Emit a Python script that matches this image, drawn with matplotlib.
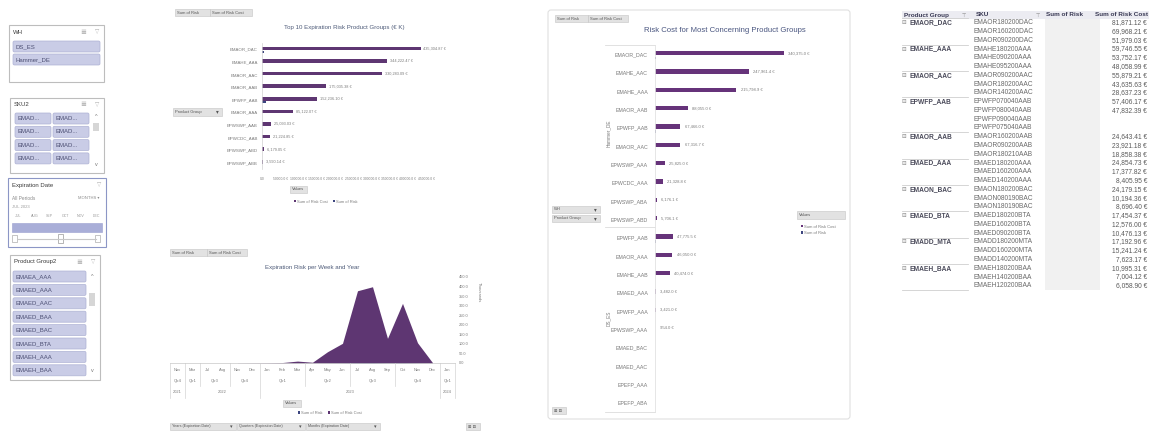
import numpy as np
import matplotlib
matplotlib.use('Agg')
import matplotlib.pyplot as plt
from matplotlib.patches import Rectangle, FancyBboxPatch
from matplotlib.transforms import blended_transform_factory

plt.rcParams['font.family'] = ['Liberation Sans', 'DejaVu Sans']

# ---- slicers ----
wh_items = ['DS_ES', 'Hammer_DE']
sku_items = ['EMAD...', 'EMAD...', 'EMAD...', 'EMAD...',
             'EMAD...', 'EMAD...', 'EMAD...', 'EMAD...']
timeline_months = ['JUL', 'AUG', 'SEP', 'OCT', 'NOV', 'DEC']
product_group_items = ['EMAEA_AAA', 'EMAED_AAA', 'EMAED_AAC', 'EMAED_BAA',
                       'EMAED_BAC', 'EMAED_BTA', 'EMAEH_AAA', 'EMAEH_BAA']

# ---- top 10 expiration risk ----
top_groups = ['EMAOR_DAC', 'EMAHE_AAA', 'EMAOR_AAC', 'EMAOR_AAB', 'EPWFP_AAB',
              'EMAOR_AAA', 'EPWSWP_AAB', 'EPWCDC_AAB', 'EPWSWP_ABD', 'EPWSWP_ABB']
top_risk_cost = [435304.87, 344222.47, 330283.09, 175035.38, 152236.10,
                 85122.07, 25093.03, 21224.85, 6179.05, 3590.14]
top_risk = [5000, 1200, 900, 700, 12000, 600, 400, 300, 200, 150]
top_ticks = np.arange(0, 450001, 50000)

# ---- expiration risk per month ----
months = ['Nov', 'Mar', 'Jul', 'Aug', 'Nov', 'Dec', 'Jan', 'Feb', 'Mar', 'Apr',
          'May', 'Jun', 'Jul', 'Aug', 'Sep', 'Oct', 'Nov', 'Dec', 'Jan']
quarter_spans = [(0, 0, 'Qtr4'), (1, 1, 'Qtr1'), (2, 3, 'Qtr3'), (4, 5, 'Qtr4'),
                 (6, 8, 'Qtr1'), (9, 11, 'Qtr2'), (12, 14, 'Qtr3'),
                 (15, 17, 'Qtr4'), (18, 18, 'Qtr1')]
year_spans = [(0, 0, '2021'), (1, 5, '2022'), (6, 17, '2023'), (18, 18, '2024')]
risk_cost_k = [np.nan, np.nan, np.nan, np.nan, 0.5, 1.0, 1.5, 2.5, 10.0, 4.0,
               59.0, 103.0, 378.0, 399.0, 129.0, 312.0, 106.0, 2.0, np.nan]
risk_k = [np.nan, np.nan, np.nan, np.nan, 0.0, 0.0, 0.0, 0.1, 0.2, 0.1,
          0.6, 1.0, 2.5, 2.8, 1.2, 2.0, 0.8, 0.0, np.nan]

# ---- risk cost by warehouse ----
hammer_groups = ['EMAOR_DAC', 'EMAHE_AAC', 'EMAHE_AAA', 'EMAOR_AAB', 'EPWFP_AAB',
                 'EMAOR_AAC', 'EPWSWP_AAA', 'EPWCDC_AAA', 'EPWSWP_ABA', 'EPWSWP_ABD']
hammer_risk_cost = [340375.0, 247961.4, 215798.9, 88055.0, 67466.0,
                    67316.7, 25825.0, 21328.8, 6176.1, 5706.1]
hammer_risk = [1500, 0, 0, 0, 3500, 0, 1200, 0, 0, 0]
ds_groups = ['EPWFP_AAB', 'EMAOR_AAA', 'EMAHE_AAB', 'EMAED_AAA', 'EPWFP_AAA',
             'EPWSWP_AAA', 'EMAED_BAC', 'EMAED_AAC', 'EPEFP_AAA', 'EPEFP_ABA']
ds_risk_cost = [47775.5, 46050.0, 40474.0, 3482.0, 3421.0, 954.0,
                np.nan, np.nan, np.nan, np.nan]
ds_risk = [2500, 0, 0, 0, 0, 0, 0, 0, 0, 0]

# ---- pivot table ----
table_groups = ['EMAOR_DAC', 'EMAHE_AAA', 'EMAOR_AAC', 'EPWFP_AAB', 'EMAOR_AAB',
                'EMAED_AAA', 'EMAON_BAC', 'EMAED_BTA', 'EMADD_MTA', 'EMAEH_BAA']
table_skus = [
    ['EMAOR180200DAC', 'EMAOR160200DAC', 'EMAOR090200DAC'],
    ['EMAHE180200AAA', 'EMAHE090200AAA', 'EMAHE095200AAA'],
    ['EMAOR090200AAC', 'EMAOR180200AAC', 'EMAOR140200AAC'],
    ['EPWFP070040AAB', 'EPWFP080040AAB', 'EPWFP090040AAB', 'EPWFP075040AAB'],
    ['EMAOR160200AAB', 'EMAOR090200AAB', 'EMAOR180210AAB'],
    ['EMAED180200AAA', 'EMAED160200AAA', 'EMAED140200AAA'],
    ['EMAON180200BAC', 'EMAON080190BAC', 'EMAON180190BAC'],
    ['EMAED180200BTA', 'EMAED160200BTA', 'EMAED090200BTA'],
    ['EMADD180200MTA', 'EMADD160200MTA', 'EMADD140200MTA'],
    ['EMAEH180200BAA', 'EMAEH140200BAA', 'EMAEH120200BAA'],
]
table_costs = [
    [81871.12, 69968.21, 51979.03],
    [59746.55, 53752.17, 48058.99],
    [55879.21, 43635.63, 28637.23],
    [57406.17, 47832.39, None, None],
    [24643.41, 23921.18, 18858.38],
    [24854.73, 17377.82, 8405.95],
    [24179.15, 10194.36, 8696.40],
    [17454.37, 12576.00, 10476.13],
    [17192.96, 15241.24, 7623.17],
    [10995.31, 7004.12, 6058.90],
]

COST = '#5e3672'
RISK = '#3d4680'
GREY = '#7a7a7a'

W, H = 1150, 432
fig = plt.figure(figsize=(11.5, 4.32), dpi=100)


def px_axes(x, y, w, h):
    return fig.add_axes([x / W, 1 - (y + h) / H, w / W, h / H])


# pixel canvas for the dashboard furniture (slicers, buttons, table)
ui = px_axes(0, 0, W, H)
ui.set_xlim(0, W)
ui.set_ylim(H, 0)
ui.axis('off')


def button(x, y, w, h, text, fs=3.0, arrow=False):
    ui.add_patch(Rectangle((x, y), w, h, fc='#e2e2e2', ec='#c4c4c4', lw=0.4))
    ui.text(x + 2, y + h / 2, text, fontsize=fs, va='center', color='#555555')
    if arrow:
        ui.text(x + w - 3, y + h / 2, '▾', fontsize=fs + 1, va='center',
                ha='right', color='#555555')


def slicer(x, y, w, h, title, ec='#bdbdbd', icons=True):
    ui.add_patch(Rectangle((x, y), w, h, fc='white', ec=ec, lw=0.8))
    ui.text(x + 4, y + 7, title, fontsize=4.3, color='#3a3a3a', va='center')
    if icons:
        ui.text(x + w - 24, y + 7, '≣', fontsize=5, color='#a0a0a0', va='center')
        ui.text(x + w - 9, y + 7, '▽', fontsize=4, color='#b0b0b0', va='center')


def item(x, y, w, h, text):
    ui.add_patch(FancyBboxPatch((x, y), w, h, boxstyle='round,pad=0,rounding_size=1.5',
                                fc='#c9cce6', ec='#aeb2d4', lw=0.5))
    ui.text(x + 3, y + h / 2, text, fontsize=4.3, va='center', color='#4c4f73')


def scrollbar(x, y0, y1, thumb0, thumb1):
    ui.text(x + 4, y0 + 2, '^', fontsize=4, ha='center', va='center', color='#777777')
    ui.text(x + 4, y1 - 2, 'v', fontsize=4, ha='center', va='center', color='#777777')
    ui.add_patch(Rectangle((x + 1, thumb0), 6, thumb1 - thumb0, fc='#d6d6d6', ec='none'))


# WH slicer
slicer(9, 25, 95, 57, 'WH')
for i, name in enumerate(wh_items):
    item(13, 41 + i * 13, 87, 11, name)

# SKU2 slicer
slicer(10, 98, 94, 75, 'SKU2')
for i, name in enumerate(sku_items):
    item(15 + (i % 2) * 38, 113 + (i // 2) * 13.3, 36, 11, name)
scrollbar(92, 115, 167, 123, 131)

# Expiration Date timeline
slicer(8, 178, 98, 69, 'Expiration Date', ec='#8c96c6', icons=False)
ui.text(97, 185, '▽', fontsize=4, color='#b0b0b0', va='center')
ui.text(12, 198, 'All Periods', fontsize=3.4, color='#8a8a8a', va='center')
ui.text(100, 198, 'MONTHS ▾', fontsize=3, color='#8a8a8a', va='center', ha='right')
ui.text(12, 207, 'JUL 2023', fontsize=3, color='#9a9a9a', va='center')
for i, m in enumerate(timeline_months):
    ui.text(15 + i * 15.5, 216, m, fontsize=2.6, color='#9a9a9a', va='center')
ui.add_patch(Rectangle((12, 223), 90, 9, fc='#a9aed8', ec='#9aa0d0', lw=0.4))
ui.plot([18, 96], [239, 239], color='#c8c8c8', lw=0.8)
ui.add_patch(Rectangle((12, 235), 5, 7, fc='white', ec='#999999', lw=0.4))
ui.add_patch(Rectangle((95, 235), 5, 7, fc='white', ec='#999999', lw=0.4))
ui.add_patch(Rectangle((58, 234), 5, 9, fc='white', ec='#999999', lw=0.5))

# Product Group2 slicer
slicer(10, 255, 90, 125, 'Product Group2')
for i, name in enumerate(product_group_items):
    item(13, 271 + i * 13.4, 73, 11, name)
scrollbar(88, 274, 372, 293, 306)

# ---------------- Top 10 expiration risk ----------------
button(175, 9, 35, 7, 'Sum of Risk')
button(210, 9, 42, 7, 'Sum of Risk Cost')
button(173, 108, 49, 8, 'Product Group', arrow=True)
button(290, 186, 17, 7, 'Values')

ax1 = px_axes(262, 43, 164, 126)
ax1.set_facecolor('none')
y1 = np.arange(len(top_groups))
b_cost = ax1.barh(y1 - 0.07, top_risk_cost, height=0.28, color=COST,
                  label='Sum of Risk Cost')
ax1.barh(y1 + 0.2, top_risk, height=0.18, color=RISK, label='Sum of Risk')
ax1.bar_label(b_cost, labels=[f'{v:,.2f} €' for v in top_risk_cost],
              fontsize=2.8, color=GREY, padding=2)
ax1.set_ylim(len(top_groups) - 0.5, -0.5)
ax1.set_xlim(0, 450000)
ax1.set_yticks(y1, top_groups)
ax1.set_xticks(top_ticks, ['0.0'] + [f'{t:.1f} €' for t in top_ticks[1:]])
ax1.tick_params(length=0, labelsize=3.2, colors=GREY, pad=3)
ax1.tick_params(axis='x', labelsize=2.4, pad=6)
for s in ['top', 'right', 'bottom']:
    ax1.spines[s].set_visible(False)
ax1.spines['left'].set_color('#d0d0d0')
ax1.spines['left'].set_linewidth(0.5)
ax1.set_title('Top 10 Expiration Risk Product Groups (€ K)', fontsize=4.4,
              color='#4d5a78', pad=10)
ax1.legend(loc='upper left', bbox_to_anchor=(290 / W, 1 - 196 / H),
           bbox_transform=fig.transFigure, ncol=2, frameon=False, fontsize=2.9,
           handlelength=0.6, handleheight=0.6, handletextpad=0.3,
           columnspacing=1.2, labelcolor=GREY)

# ---------------- Expiration risk per month ----------------
button(170, 249, 37, 7, 'Sum of Risk')
button(207, 249, 40, 7, 'Sum of Risk Cost')
button(283, 400, 18, 7, 'Values')
button(170, 423, 66, 7, 'Years (Expiration Date)', fs=2.7, arrow=True)
button(237, 423, 68, 7, 'Quarters (Expiration Date)', fs=2.7, arrow=True)
button(306, 423, 74, 7, 'Months (Expiration Date)', fs=2.7, arrow=True)
button(466, 423, 14, 7, '⊞ ⊟', fs=3)

ax2 = px_axes(170, 277, 285, 86)
ax2.set_facecolor('none')
xm = np.arange(len(months))
rc = np.array(risk_cost_k)
rk = np.array(risk_k)
ax2.fill_between(xm, rc, where=~np.isnan(rc), color=COST, lw=0,
                 label='Sum of Risk Cost')
ax2.fill_between(xm, rk, where=~np.isnan(rk), color=RISK, lw=0,
                 label='Sum of Risk')
ax2.set_xlim(-0.5, len(months) - 0.5)
ax2.set_ylim(0, 450)
ax2.yaxis.tick_right()
ax2.set_yticks(np.arange(0, 451, 50), [f'{v:.1f}' for v in range(0, 451, 50)])
ax2.set_xticks([])
ax2.tick_params(length=0, labelsize=2.8, colors=GREY, pad=3)
for s in ['top', 'right', 'left']:
    ax2.spines[s].set_visible(False)
ax2.spines['bottom'].set_color('#c8c8c8')
ax2.spines['bottom'].set_linewidth(0.5)
ax2.text(1.085, 0.82, 'Thousands', transform=ax2.transAxes, rotation=270,
         fontsize=3, color=GREY, ha='center', va='center')
ax2.set_title('Expiration Risk per Week and Year', fontsize=4.4,
              color='#4d5a78', pad=6)

# multi-level category axis: month / quarter / year
bt = blended_transform_factory(ax2.transData, ax2.transAxes)
row_px = [370, 381, 392]
fy = [(363 - r) / 86 for r in row_px]
for i, m in enumerate(months):
    ax2.text(i, fy[0], m, transform=bt, fontsize=2.9, color=GREY,
             ha='center', va='center')
for a, b, q in quarter_spans:
    ax2.text((a + b) / 2, fy[1], q, transform=bt, fontsize=2.9, color=GREY,
             ha='center', va='center')
for a, b, yr in year_spans:
    ax2.text((a + b) / 2, fy[2], yr, transform=bt, fontsize=2.9, color=GREY,
             ha='center', va='center')
line_kw = dict(transform=bt, color='#d4d4d4', lw=0.5, clip_on=False)
year_edges = {a - 0.5 for a, _, _ in year_spans} | {len(months) - 0.5}
for a, _, _ in quarter_spans:
    edge = a - 0.5
    bottom = (363 - 398) / 86 if edge in year_edges else (363 - 386) / 86
    ax2.plot([edge, edge], [0, bottom], **line_kw)
ax2.plot([len(months) - 0.5] * 2, [0, (363 - 398) / 86], **line_kw)
ax2.legend(loc='center', bbox_to_anchor=(330 / W, 1 - 413 / H),
           bbox_transform=fig.transFigure, ncol=2, frameon=False, fontsize=2.9,
           handlelength=0.5, handleheight=0.5, handletextpad=0.3,
           columnspacing=1.2, labelcolor=GREY, reverse=True)

# ---------------- Risk cost for most concerning groups ----------------
ui.add_patch(FancyBboxPatch((548, 10), 302, 409, boxstyle='round,pad=0,rounding_size=3',
                            fc='white', ec='#e0e0e0', lw=0.8, zorder=0))
button(555, 15, 33, 7, 'Sum of Risk')
button(588, 15, 40, 7, 'Sum of Risk Cost')
button(552, 206, 48, 7, 'WH', arrow=True)
button(552, 215, 48, 7, 'Product Group', arrow=True)
button(552, 407, 14, 7, '⊞ ⊟', fs=3)
ui.add_patch(Rectangle((797, 211), 48, 8, fc='#e2e2e2', ec='#c4c4c4', lw=0.4))
ui.text(799, 215, 'Values', fontsize=3, va='center', color='#555555')

ax3 = px_axes(655, 45, 185, 367)
ax3.set_facecolor('none')
groups3 = hammer_groups + ds_groups
cost3 = np.array(hammer_risk_cost + ds_risk_cost)
risk3 = np.array(hammer_risk + ds_risk)
y3 = np.arange(len(groups3))
b3 = ax3.barh(y3 - 0.06, cost3, height=0.24, color='#66337a',
              label='Sum of Risk Cost')
ax3.barh(y3 + 0.2, risk3, height=0.14, color=RISK, label='Sum of Risk')
ax3.bar_label(b3, labels=['' if np.isnan(v) else f'{v:,.1f} €' for v in cost3],
              fontsize=3.0, color=GREY, padding=3)
ax3.set_ylim(len(groups3) - 0.5, -0.5)
ax3.set_xlim(0, 490000)
ax3.set_yticks(y3, groups3)
ax3.set_xticks([])
ax3.tick_params(length=0, labelsize=3.8, colors=GREY, pad=5)
for s in ['top', 'right', 'bottom']:
    ax3.spines[s].set_visible(False)
ax3.spines['left'].set_color('#e2e2e2')
ax3.spines['left'].set_linewidth(0.6)
ax3.set_title('Risk Cost for Most Concerning Product Groups', fontsize=5.6,
              color='#4a5680', pad=9, x=0.38)
ax3.legend(loc='upper left', bbox_to_anchor=(797 / W, 1 - 221 / H),
           bbox_transform=fig.transFigure, ncol=1, frameon=False, fontsize=3.0,
           handlelength=0.5, handleheight=0.5, handletextpad=0.3,
           labelspacing=0.5, labelcolor=GREY)
# warehouse group brackets
for yb in [45, 227, 412]:
    ui.plot([605, 655], [yb, yb], color='#dcdcdc', lw=0.6)
ui.text(608, 133, 'Hammer_DE', rotation=90, fontsize=3.4, color=GREY,
        ha='center', va='center')
ui.text(608, 318, 'DS_ES', rotation=90, fontsize=3.4, color=GREY,
        ha='center', va='center')

# ---------------- pivot table ----------------
ui.add_patch(Rectangle((902, 11), 247, 8, fc='#ececf2', ec='none'))
n_rows = sum(len(s) for s in table_skus)
row0, dy = 22.7, 8.77
ui.add_patch(Rectangle((1045, 19), 55, row0 + (n_rows - 0.5) * dy - 19,
                       fc='#f1f1f1', ec='none'))
hdr = dict(fontsize=4.6, va='center', color='#3a3a55', fontweight='bold')
ui.text(904, 15, 'Product Group', **hdr)
ui.text(962, 15, '⊤', fontsize=3.6, va='center', color='#888888')
ui.text(976, 15, 'SKU', **hdr)
ui.text(1036, 15, '⊤', fontsize=3.6, va='center', color='#888888')
ui.text(1046, 15, 'Sum of Risk', **hdr)
ui.text(1148, 15, 'Sum of Risk Cost', ha='right', **hdr)
r = 0
for g, skus, costs in zip(table_groups, table_skus, table_costs):
    yg = row0 + r * dy
    ui.plot([902, 968], [yg - dy / 2, yg - dy / 2], color='#cfcfcf', lw=0.6)
    ui.text(902, yg, '⊟', fontsize=4, va='center', color='#888888')
    ui.text(909, yg, g, fontsize=4.8, va='center', color='#4a4a5a',
            fontweight='bold')
    for sku, c in zip(skus, costs):
        yr = row0 + r * dy
        ui.text(973, yr, sku, fontsize=4.8, va='center', color='#6a6a6a')
        if c is not None:
            ui.text(1147, yr, f'{c:,.2f} €', fontsize=4.8, va='center',
                    ha='right', color='#5a5a5a')
        r += 1
ui.plot([902, 968], [row0 + (r - 0.5) * dy] * 2, color='#cfcfcf', lw=0.6)

fig.savefig('out.png', dpi=100)
